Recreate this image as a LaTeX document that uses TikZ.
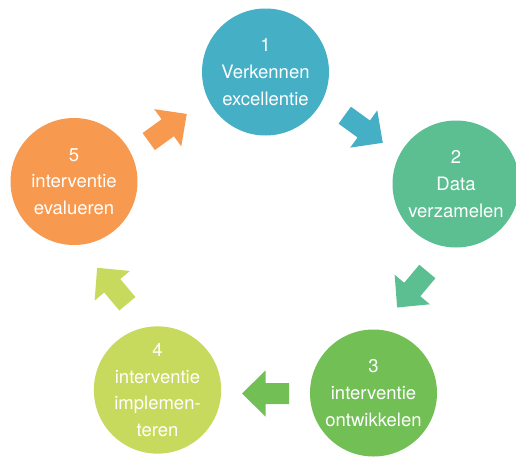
\documentclass[tikz,border=0pt]{standalone}
\usepackage{fontspec}
\setmainfont{TeX Gyre Heros}
\usetikzlibrary{calc}
\definecolor{cblue}{HTML}{45AFC6}
\definecolor{cteal}{HTML}{5BBF91}
\definecolor{cgreen}{HTML}{72BF55}
\definecolor{clime}{HTML}{C7DA5E}
\definecolor{corange}{HTML}{F7994F}
\begin{document}
\begin{tikzpicture}[x=1pt,y=-1pt,
  stage/.style={circle,minimum size=127pt,inner sep=0pt,text=white,align=center,
    font=\fontsize{18.5}{26.7}\selectfont},
  barrow/.pic={\fill (-23.5,-10.5) -- (0,-10.5) -- (0,-23) -- (23.5,0) -- (0,23) -- (0,10.5) -- (-23.5,10.5) -- cycle;}]
\useasboundingbox (0,0) rectangle (516,458);
% the five stages of the cycle
\node[stage,fill=cblue]   (c1) at (265.5,72)  {1\\Verkennen\\excellentie};
\node[stage,fill=cteal]   (c2) at (456,184)   {2\\Data\\verzamelen};
\node[stage,fill=cgreen]  (c3) at (373.5,393) {3\\interventie\\ontwikkelen};
\node[stage,fill=clime]   (c4) at (157.5,390) {4\\interventie\\implemen-\\teren};
\node[stage,fill=corange] (c5) at (74,181.5)  {5\\interventie\\evalueren};
% block arrows between consecutive stages
\path ($(c1)!0.5!(c2)+(3,1)$)   pic[color=cblue,rotate=-36]{barrow};
\path ($(c2)!0.5!(c3)+(-2.5,1)$) pic[color=cteal,rotate=-130]{barrow};
\path ($(c3)!0.5!(c4)+(0,2)$)   pic[color=cgreen,rotate=180]{barrow};
\path ($(c4)!0.5!(c5)+(-3.5,0)$) pic[color=clime,rotate=130]{barrow};
\path ($(c5)!0.5!(c1)+(-2,1)$)  pic[color=corange,rotate=36]{barrow};
\end{tikzpicture}
\end{document}
